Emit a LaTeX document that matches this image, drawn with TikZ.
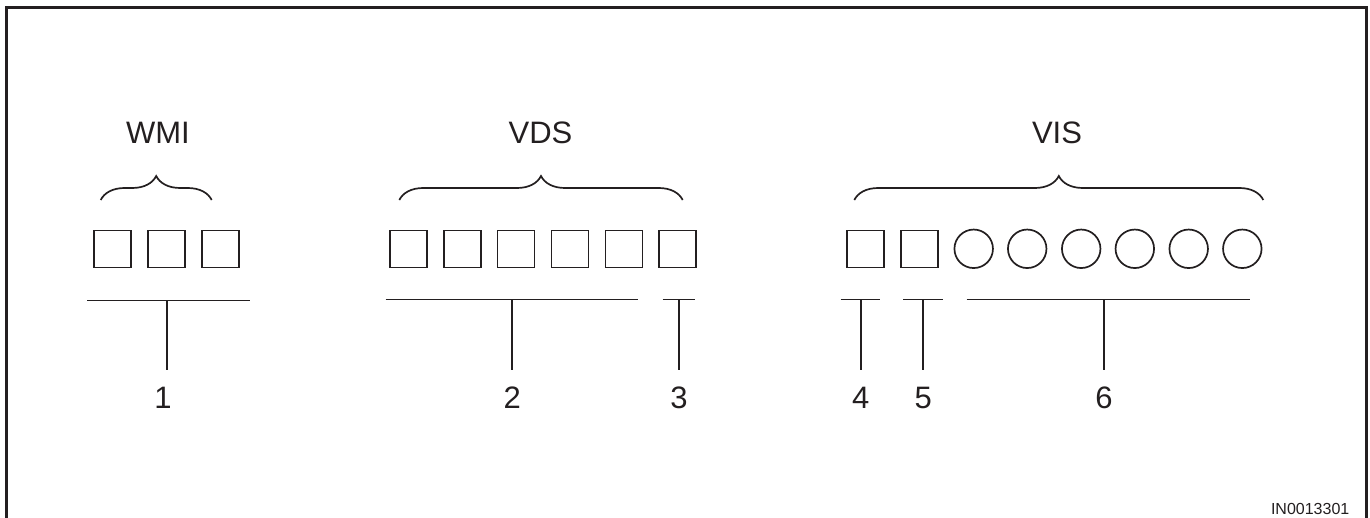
\documentclass[tikz,border=0pt]{standalone}
\usepackage{fontspec}
\setmainfont{Liberation Sans}
\usetikzlibrary{decorations.pathreplacing}
\definecolor{ink}{HTML}{231F20}
\begin{document}
\begin{tikzpicture}[x=1pt,y=-1pt,
  sq/.style={draw=ink,line width=1.7pt,minimum size=37pt,inner sep=0pt},
  ci/.style={draw=ink,circle,line width=1.7pt,minimum size=38.5pt,inner sep=0pt},
  title/.style={font=\fontsize{31}{31}\selectfont,text=ink,anchor=base,inner sep=0pt},
  num/.style={font=\fontsize{31}{31}\selectfont,text=ink,anchor=base,inner sep=0pt},
  ln/.style={draw=ink,line width=1.7pt},
  br/.style={draw=ink,line width=1.7pt,decorate,decoration={brace,amplitude=24pt}}]
\useasboundingbox (0,0) rectangle (1370,518);
% frame
\draw[ink,line width=2.5pt] (6.5,518) -- (6.5,7.5) -- (1366.5,7.5) -- (1366.5,518);
% titles
\node[title] (twmi) at (158,143.3) {WMI};
\node[title] (tvds) at (540.5,143.3) {VDS};
\node[title] (tvis) at (1057,143.3) {VIS};
% braces
\coordinate (b1a) at (100.7,200); \coordinate (b1b) at (211.7,200);
\coordinate (b2a) at (399.3,200); \coordinate (b2b) at (682.7,200);
\coordinate (b3a) at (854.3,200); \coordinate (b3b) at (1263.3,200);
\draw[br] (b1a) -- (b1b);
\draw[br] (b2a) -- (b2b);
\draw[br] (b3a) -- (b3b);
% WMI squares
\node[sq] (w1) at (112.2,249) {};
\node[sq] (w2) at (166.5,249) {};
\node[sq] (w3) at (220.2,249) {};
% VDS squares
\foreach \i/\x in {1/408.2,2/462.2,3/515.9,4/569.9,5/623.9,6/677.5}
  \node[sq] (v\i) at (\x,249) {};
% VIS squares and circles
\node[sq] (s1) at (865.5,249) {};
\node[sq] (s2) at (919.5,249) {};
\foreach \i/\x in {1/973.7,2/1027.2,3/1081.2,4/1134.8,5/1188.7,6/1242.3}
  \node[ci] (c\i) at (\x,248.8) {};
% bars
\coordinate (l1a) at (87.3,300.5);  \coordinate (l1b) at (250,300.5);  \coordinate (m1) at (166.7,300.5);
\coordinate (l2a) at (385.7,299.5); \coordinate (l2b) at (637.7,299.5); \coordinate (m2) at (512.3,299.5);
\coordinate (l3a) at (662.7,299.5); \coordinate (l3b) at (695,299.5);   \coordinate (m3) at (679,299.5);
\coordinate (l4a) at (840.7,299.5); \coordinate (l4b) at (880,299.5);   \coordinate (m4) at (860.7,299.5);
\coordinate (l5a) at (903.3,299.5); \coordinate (l5b) at (942.7,299.5); \coordinate (m5) at (923.3,299.5);
\coordinate (l6a) at (966.7,299.5); \coordinate (l6b) at (1250,299.5);  \coordinate (m6) at (1104,299.5);
\foreach \k in {1,...,6} \draw[ln] (l\k a) -- (l\k b);
% number labels
\node[num] (n1) at (163,408.5) {1};
\node[num] (n2) at (512.3,408.5) {2};
\node[num] (n3) at (679,408.5) {3};
\node[num] (n4) at (860.7,408.5) {4};
\node[num] (n5) at (923.3,408.5) {5};
\node[num] (n6) at (1104,408.5) {6};
% stems
\foreach \k in {1,...,6} {
  \coordinate (e\k) at ([yshift=16.5pt]n\k.north);
}
\foreach \k in {1,...,6} \draw[ln] (m\k) -- (m\k |- e\k);
% id
\node[font=\fontsize{16}{16}\selectfont,text=ink,anchor=base east,inner sep=0pt] (id) at (1349.5,514) {IN0013301};
\end{tikzpicture}
\end{document}
